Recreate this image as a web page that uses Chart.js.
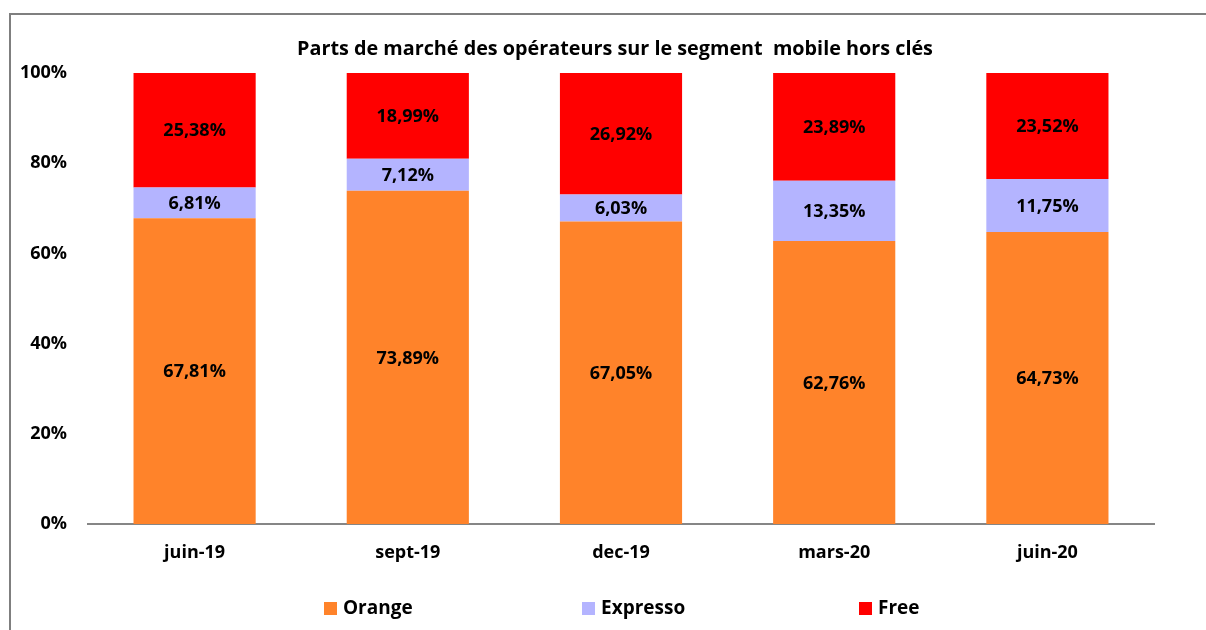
<!DOCTYPE html>
<html>
<head>
<meta charset="utf-8">
<script src="https://cdn.jsdelivr.net/npm/chart.js@4/dist/chart.umd.min.js"></script>
<style>
  html, body { margin: 0; padding: 0; background: #fff; }
  #wrap { position: relative; width: 1206px; height: 630px; overflow: hidden; }
  #frame { position: absolute; left: 9px; top: 13px; width: 1300px; height: 700px;
           border-top: 2px solid #7f7f7f; border-left: 2px solid #7f7f7f; }
  canvas { position: absolute; left: 0; top: 0; }
  .leg { position: absolute; top: 594px; line-height: 26px; font: bold 19px "Open Sans", sans-serif; color: #000; }
  .sw { position: absolute; width: 13px; height: 13px; }
</style>
</head>
<body>
<div id="wrap">
  <div id="frame"></div>
  <canvas id="c" width="1206" height="630"></canvas>
  <div id="legend"></div>
</div>
<script>
const categories = ["juin-19", "sept-19", "dec-19", "mars-20", "juin-20"];
const orange = [67.81, 73.89, 67.05, 62.76, 64.73];
const expresso = [6.81, 7.12, 6.03, 13.35, 11.75];
const free = [25.38, 18.99, 26.92, 23.89, 23.52];
const seriesNames = ["Orange", "Expresso", "Free"];
const seriesColors = ["#FF832A", "#B4B4FF", "#FF0000"];
const titleText = "Parts de marché des opérateurs sur le segment  mobile hors clés";

const FONT = '"Open Sans", sans-serif';

const labelPlugin = {
  id: 'barLabels',
  afterDatasetsDraw(chart) {
    const ctx = chart.ctx;
    ctx.save();
    ctx.font = 'bold 18px ' + FONT;
    ctx.fillStyle = '#000';
    ctx.textAlign = 'center';
    ctx.textBaseline = 'middle';
    chart.data.datasets.forEach((ds, di) => {
      chart.getDatasetMeta(di).data.forEach((el, i) => {
        const p = el.getCenterPoint();
        ctx.fillText(ds.data[i].toFixed(2).replace('.', ',') + '%', p.x, p.y + 1);
      });
    });
    ctx.restore();
  }
};

const titlePlugin = {
  id: 'customTitle',
  afterDraw(chart) {
    const ctx = chart.ctx;
    const a = chart.chartArea;
    ctx.save();
    ctx.font = 'bold 19.8px ' + FONT;
    ctx.fillStyle = '#000';
    ctx.textAlign = 'center';
    ctx.textBaseline = 'alphabetic';
    ctx.fillText(titleText, (a.left + a.right) / 2 - 6, 55);
    ctx.restore();
  }
};

new Chart(document.getElementById('c'), {
  type: 'bar',
  data: {
    labels: categories,
    datasets: [
      { label: seriesNames[0], data: orange, backgroundColor: seriesColors[0] },
      { label: seriesNames[1], data: expresso, backgroundColor: seriesColors[1] },
      { label: seriesNames[2], data: free, backgroundColor: seriesColors[2] }
    ]
  },
  options: {
    responsive: false,
    animation: false,
    layout: { padding: { left: 0, right: 52, top: 73, bottom: 0 } },
    datasets: { bar: { categoryPercentage: 1, barPercentage: 0.573 } },
    plugins: {
      legend: { display: false },
      title: { display: false },
      tooltip: { enabled: false }
    },
    scales: {
      x: {
        stacked: true,
        grid: { display: false, drawTicks: false },
        border: { display: true, color: '#868686', width: 2 },
        ticks: { color: '#000', font: { family: FONT, weight: 'bold', size: 18 }, padding: 18 },
        afterFit(s) { s.height = 106; }
      },
      y: {
        stacked: true,
        min: 0, max: 100,
        grid: { display: false, drawTicks: false },
        border: { display: false },
        ticks: { stepSize: 20, color: '#000', padding: 21,
                 font: { family: FONT, weight: 'bold', size: 18 },
                 callback: v => v + '%' },
        afterFit(s) { s.width = 88; }
      }
    }
  },
  plugins: [labelPlugin, titlePlugin]
});

// legend (HTML)
const legendX = [324, 582, 859];
const legend = document.getElementById('legend');
seriesNames.forEach((n, i) => {
  const sw = document.createElement('div');
  sw.className = 'sw';
  sw.style.left = legendX[i] + 'px';
  sw.style.top = '602px';
  sw.style.background = seriesColors[i];
  legend.appendChild(sw);
  const t = document.createElement('div');
  t.className = 'leg';
  t.style.left = (legendX[i] + 19) + 'px';
  t.textContent = n;
  legend.appendChild(t);
});
</script>
</body>
</html>
